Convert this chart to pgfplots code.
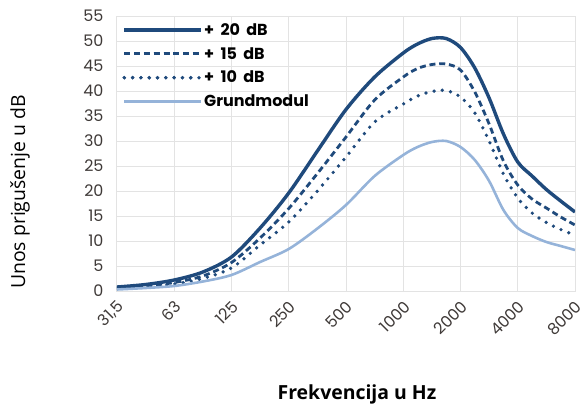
\documentclass[border=0pt]{standalone}
\usepackage{fontspec}
\setmainfont{Poppins}
\newfontfamily\tickfont{Poppins}
\newfontfamily\labfont{Open Sans}
\usepackage{pgfplots}
\pgfplotsset{compat=1.18}
\definecolor{navy}{HTML}{1F4A7C}
\definecolor{lightb}{HTML}{95B3D9}
\definecolor{gridc}{HTML}{E3E3E3}
\definecolor{tickc}{HTML}{3F3A38}
\newcommand{\lsp}{\hspace{0.4em}}
\begin{document}
\begin{tikzpicture}
\useasboundingbox (-117bp,-114bp) rectangle (463bp,291bp);
\begin{axis}[
  scale only axis, width=458bp, height=275bp,
  xmin=0, xmax=8, ymin=0, ymax=55,
  xtick={0,1,2,3,4,5,6,7,8},
  xticklabels={{31,5},63,125,250,500,1000,2000,4000,8000},
  ytick={0,5,...,55},
  major tick length=0pt,
  grid=major,
  major grid style={gridc, line width=1pt},
  axis line style={gridc, line width=1pt},
  /pgf/number format/assume math mode=true,
  ticklabel style={font=\tickfont\fontsize{16}{18}\selectfont, text=tickc},
  xticklabel style={rotate=45, anchor=east, xshift=-3bp, yshift=-12bp},
  yticklabel style={xshift=-10bp},
  ylabel={Unos prigušenje u dB},
  ylabel style={font=\labfont\fontsize{19.5}{21}\selectfont, at={(axis description cs:-0.212,0.36)}, anchor=center},
  xlabel={Frekvencija u Hz},
  xlabel style={font=\labfont\bfseries\fontsize{19.5}{21}\selectfont, at={(axis description cs:0.524,-0.375)}, anchor=center},
  legend style={draw=none, fill=none, at={(0.005,0.985)}, anchor=north west,
    font=\bfseries\fontsize{16}{18}\selectfont, row sep=8.5bp,
    nodes={inner sep=1bp}},
  legend cell align=left,
  legend image code/.code={\draw[#1] (0bp,0bp) -- (72bp,0bp); \path (0bp,0bp) -- (77bp,0bp);},
]
\addplot[navy, line width=3.4bp, smooth, tension=0.5] coordinates {
(0,0.8) (0.5,1.3) (1,2.2) (1.5,3.8) (2,6.8) (2.5,12.6) (3,19.6) (3.5,28) (4,36.3) (4.5,42.8) (5,47.6) (5.25,49.4) (5.5,50.5) (5.75,50.5) (6,48.7) (6.25,44.6) (6.5,38.6) (6.75,31.4) (7,25.8) (7.25,23.0) (7.5,20.3) (7.75,18.0) (8,15.8)};
\addlegendentry{+\lsp20\lsp dB}
\addplot[navy, line width=2.8bp, dash pattern=on 6bp off 3.8bp, smooth, tension=0.5] coordinates {
(0,0.6) (0.5,1.0) (1,1.7) (1.5,3.0) (2,5.7) (2.5,10.6) (3,16.5) (3.5,23.5) (4,30.8) (4.5,38.2) (5,42.8) (5.25,44.5) (5.5,45.3) (5.75,45.4) (6,44.2) (6.25,39.8) (6.5,33.4) (6.75,26.0) (7,21.2) (7.25,18.4) (7.5,16.6) (7.75,14.8) (8,13.2)};
\addlegendentry{+\lsp15\lsp dB}
\addplot[navy, line width=3.7bp, line cap=round, dash pattern=on 0bp off 8.3bp, smooth, tension=0.5] coordinates {
(0,0.5) (0.5,0.8) (1,1.4) (1.5,2.5) (2,4.6) (2.5,9.2) (3,13.8) (3.5,20) (4,26.8) (4.5,33.8) (5,37.4) (5.25,39.0) (5.5,39.9) (5.75,40.1) (6,38.8) (6.25,35.6) (6.5,30.0) (6.75,23.4) (7,18.6) (7.25,15.6) (7.5,13.7) (7.75,12.3) (8,11.2)};
\addlegendentry{+\lsp10\lsp dB}
\addplot[lightb, line width=2.6bp, smooth, tension=0.5] coordinates {
(0,0.3) (0.5,0.6) (1,1.0) (1.5,1.9) (2,3.2) (2.5,5.8) (3,8.4) (3.5,12.5) (4,17.2) (4.5,23.0) (5,27.2) (5.25,28.8) (5.5,29.8) (5.75,30.0) (6,28.8) (6.25,26.2) (6.5,22.0) (6.75,16.2) (7,12.6) (7.25,11.0) (7.5,9.8) (7.75,9.0) (8,8.2)};
\addlegendentry{Grundmodul}
\end{axis}
\end{tikzpicture}
\end{document}
